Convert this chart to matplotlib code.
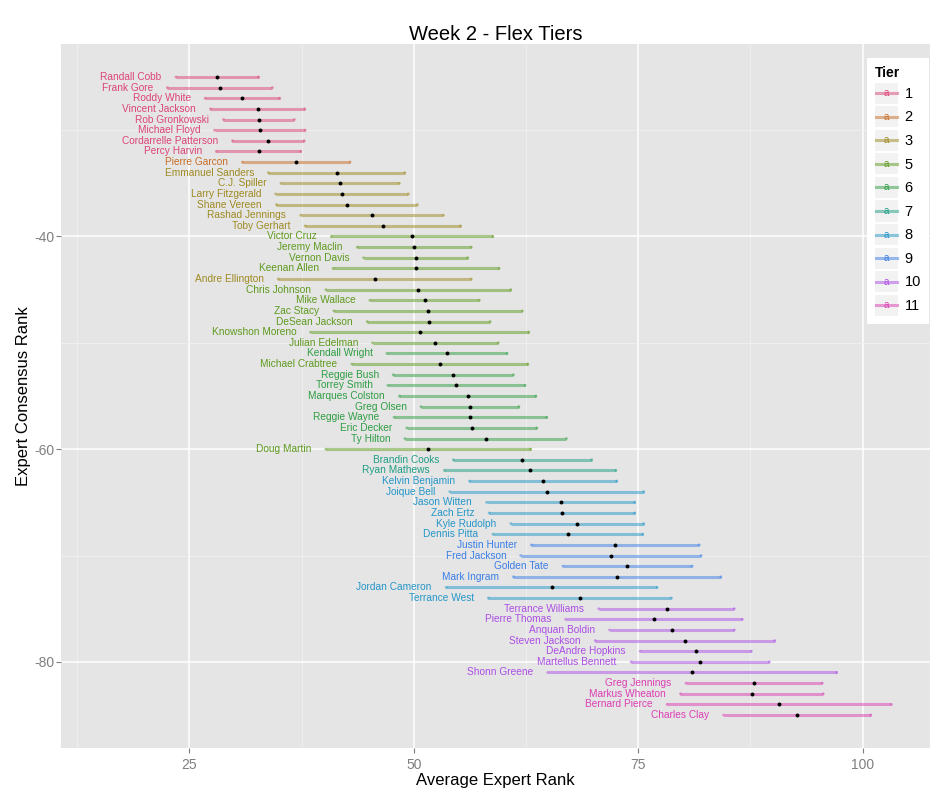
import numpy as np
import matplotlib
matplotlib.use("Agg")
import matplotlib.pyplot as plt
from matplotlib.lines import Line2D
from matplotlib.patches import Rectangle
from matplotlib.text import Text
from matplotlib.legend_handler import HandlerBase

plt.rcParams['font.family'] = ['Liberation Sans', 'DejaVu Sans']
plt.rcParams['axes.unicode_minus'] = False

# data (rank 25..85)
players = [
    "Randall Cobb", "Frank Gore", "Roddy White", "Vincent Jackson", "Rob Gronkowski",
    "Michael Floyd", "Cordarrelle Patterson", "Percy Harvin", "Pierre Garcon",
    "Emmanuel Sanders", "C.J. Spiller", "Larry Fitzgerald", "Shane Vereen",
    "Rashad Jennings", "Toby Gerhart", "Victor Cruz", "Jeremy Maclin", "Vernon Davis",
    "Keenan Allen", "Andre Ellington", "Chris Johnson", "Mike Wallace", "Zac Stacy",
    "DeSean Jackson", "Knowshon Moreno", "Julian Edelman", "Kendall Wright",
    "Michael Crabtree", "Reggie Bush", "Torrey Smith", "Marques Colston", "Greg Olsen",
    "Reggie Wayne", "Eric Decker", "Ty Hilton", "Doug Martin", "Brandin Cooks",
    "Ryan Mathews", "Kelvin Benjamin", "Joique Bell", "Jason Witten", "Zach Ertz",
    "Kyle Rudolph", "Dennis Pitta", "Justin Hunter", "Fred Jackson", "Golden Tate",
    "Mark Ingram", "Jordan Cameron", "Terrance West", "Terrance Williams",
    "Pierre Thomas", "Anquan Boldin", "Steven Jackson", "DeAndre Hopkins",
    "Martellus Bennett", "Shonn Greene", "Greg Jennings", "Markus Wheaton",
    "Bernard Pierce", "Charles Clay",
]
consensus_rank = list(range(25, 86))
avg_rank = [
    28.1, 28.4, 30.9, 32.6, 32.75, 32.85, 33.8, 32.7, 36.9, 41.4,
    41.8, 42.0, 42.55, 45.35, 46.55, 49.8, 50.05, 50.2, 50.25, 45.65,
    50.5, 51.2, 51.6, 51.65, 50.65, 52.4, 53.7, 52.9, 54.4, 54.75,
    56.0, 56.25, 56.3, 56.45, 58.0, 51.6, 62.1, 62.95, 64.4, 64.8,
    66.35, 66.5, 68.2, 67.15, 72.45, 71.95, 73.8, 72.65, 65.35, 68.5,
    78.15, 76.75, 78.75, 80.2, 81.4, 81.9, 81.0, 87.9, 87.65, 90.7,
    92.7,
]
std_dev = [
    4.6, 5.85, 4.15, 5.25, 3.95, 5.05, 4.0, 4.7, 6.0, 7.6,
    6.6, 7.4, 7.85, 7.95, 8.65, 9.0, 6.35, 5.8, 9.25, 10.75,
    10.3, 6.1, 10.5, 6.85, 12.15, 7.0, 6.7, 9.8, 6.7, 7.65,
    7.6, 5.45, 8.5, 7.25, 9.0, 11.4, 7.7, 9.55, 8.2, 10.8,
    8.25, 8.1, 7.4, 8.35, 9.35, 10.05, 7.2, 11.55, 11.75, 10.2,
    7.55, 9.85, 6.95, 10.0, 6.2, 7.7, 16.1, 7.6, 7.95, 12.5,
    8.2,
]
tier = [
    1, 1, 1, 1, 1, 1, 1, 1, 2, 3,
    3, 3, 3, 3, 3, 5, 5, 5, 5, 3,
    5, 5, 5, 5, 5, 5, 6, 5, 6, 6,
    6, 6, 6, 6, 6, 5, 7, 7, 8, 8,
    8, 8, 8, 8, 9, 9, 9, 9, 8, 8,
    10, 10, 10, 10, 10, 10, 10, 11, 11, 11,
    11,
]

tier_levels = [1, 2, 3, 5, 6, 7, 8, 9, 10, 11]
tier_colors = ["#DC4579", "#C86E28", "#9E8A22", "#5E9A1E", "#2E9E42",
               "#1E9E84", "#2496C8", "#3A7EE6", "#AC4EE4", "#DC3EB4"]
color_of = dict(zip(tier_levels, tier_colors))

LABEL_GAP = 1.6


class TierKey(HandlerBase):
    def create_artists(self, legend, orig_handle, xdescent, ydescent,
                       width, height, fontsize, trans):
        col = orig_handle.get_color()
        bg = Rectangle((-xdescent, -ydescent), width, height,
                       facecolor="#F2F2F2", edgecolor="none", transform=trans)
        ymid = height / 2 - ydescent
        ln = Line2D([-xdescent + 1, width - xdescent - 1], [ymid, ymid], color=col,
                    alpha=0.5, lw=2.2, transform=trans)
        txt = Text(width / 2 - xdescent, ymid, "a", color=col, fontsize=7,
                   ha="center", va="center", transform=trans)
        return [bg, ln, txt]


def main():
    avg = np.array(avg_rank)
    sd = np.array(std_dev)
    y = -np.array(consensus_rank)
    cols = [color_of[t] for t in tier]

    fig = plt.figure(figsize=(9.5, 8), dpi=100)
    ax = fig.add_axes([0.0642, 0.065, 0.9148, 0.88])
    ax.set_facecolor("#E5E5E5")

    ax.hlines(y, avg - sd, avg + sd, colors=cols, lw=2.2, alpha=0.5, zorder=3)
    ax.scatter(np.r_[avg - sd, avg + sd], np.r_[y, y], s=4, c=cols + cols,
               alpha=0.5, lw=0, zorder=3)
    ax.scatter(avg, y, s=8, color="black", lw=0, zorder=4)
    for name, a, s, yy, c in zip(players, avg, sd, y, cols):
        ax.text(a - s - LABEL_GAP, yy, name, ha="right", va="center",
                color=c, fontsize=7.3, zorder=5)

    ax.set_xlim(10.7, 107.5)
    ax.set_ylim(-88.1, -21.9)
    ax.set_xticks([25, 50, 75, 100])
    ax.set_xticks([12.5, 37.5, 62.5, 87.5], minor=True)
    ax.set_yticks([-40, -60, -80])
    ax.set_yticks([-30, -50, -70], minor=True)
    ax.grid(which="major", color="white", lw=1.1)
    ax.grid(which="minor", color="#F2F2F2", lw=0.5)
    ax.set_axisbelow(True)
    for sp in ax.spines.values():
        sp.set_visible(False)
    ax.tick_params(which="major", length=3.5, width=0.8, color="#7F7F7F",
                   labelcolor="#7F7F7F", labelsize=10)
    ax.tick_params(axis="y", which="major", pad=1.5)
    ax.tick_params(which="minor", length=0)

    ax.set_title("Week 2 - Flex Tiers", fontsize=14.5, pad=3)
    ax.set_xlabel("Average Expert Rank", fontsize=12, labelpad=1)
    ax.set_ylabel("Expert Consensus Rank", fontsize=12, labelpad=2)

    handles = [Line2D([], [], color=c) for c in tier_colors]
    leg = fig.legend(handles, [str(t) for t in tier_levels], title="Tier",
                     handler_map={Line2D: TierKey()},
                     loc="upper right", bbox_to_anchor=(0.978, 0.9275),
                     fontsize=10.5, handlelength=1.6, handleheight=1.85,
                     labelspacing=0.17, handletextpad=0.45, borderpad=0.55,
                     borderaxespad=0, fancybox=False, framealpha=1,
                     edgecolor="none", alignment="left")
    leg.get_title().set_fontweight("bold")
    leg.get_title().set_fontsize(10)

    fig.savefig("out.png", dpi=100)
    plt.close(fig)


if __name__ == "__main__":
    main()
